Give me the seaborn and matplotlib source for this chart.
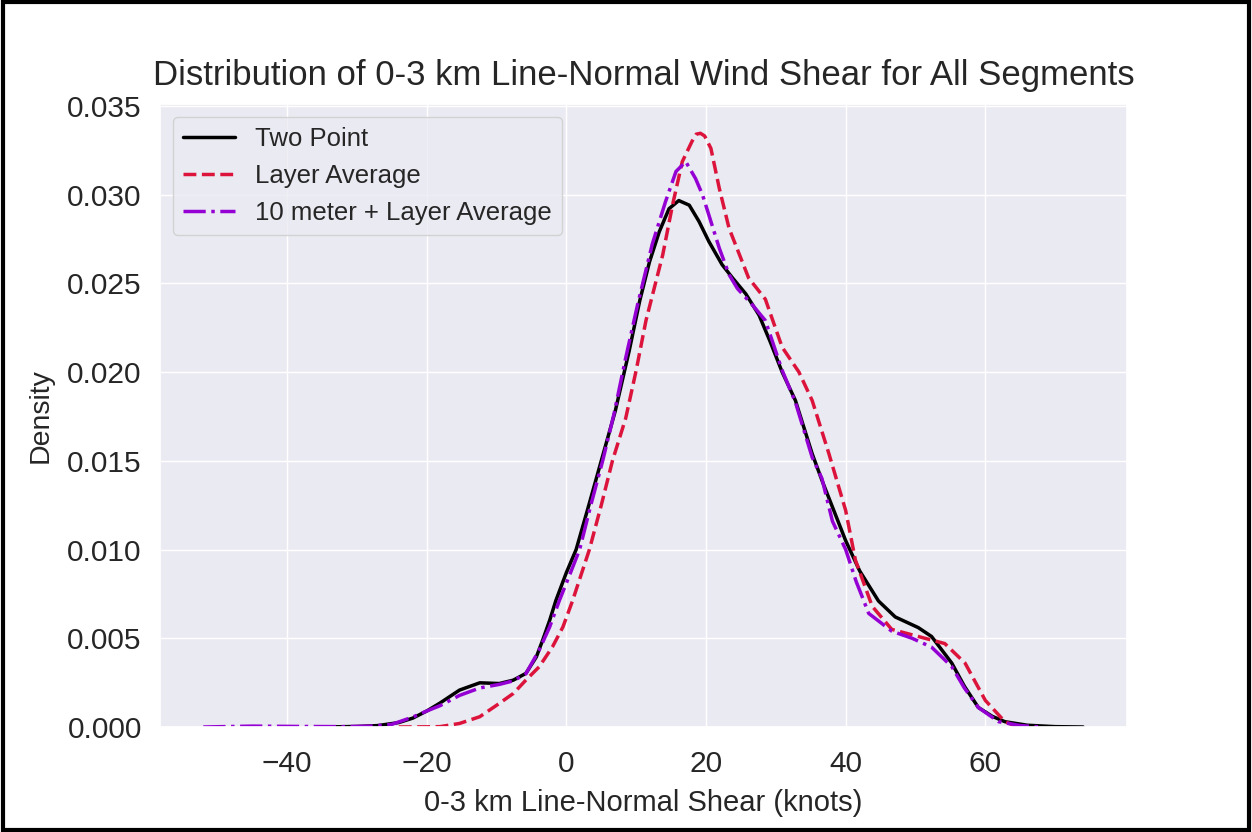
import numpy as np
import pandas as pd
import matplotlib
matplotlib.use("Agg")
import matplotlib.pyplot as plt
import seaborn as sns

# Values (knots, density)
two_point_x = [-35, -30, -27, -24, -22, -20, -18.1, -15.3, -12.4, -9.6, -7.6, -5.8, -4.3,
               -3.4, -2.4, -1.5, 0, 1.4, 3, 5, 7, 9, 10.5, 11.9, 13.3, 14.7, 16.1, 17.6,
               19, 20.4, 22.3, 23.8, 25.7, 27.6, 29.2, 30.9, 32.8, 35.2, 36.6, 38.3, 40,
               42, 44.7, 47.1, 50.4, 52.3, 55.2, 57, 59, 61, 62.8, 66, 70, 74]
two_point_y = [0.0, 0.00003, 0.00008, 0.00025, 0.0005, 0.0009, 0.00135, 0.00208, 0.00249,
               0.00245, 0.00264, 0.00302, 0.00395,
               0.00489, 0.0060, 0.00713, 0.0087, 0.0100, 0.0122, 0.0150, 0.0178, 0.0212,
               0.0240, 0.0262, 0.0279, 0.0292, 0.02966, 0.0294,
               0.02848, 0.02736, 0.02605, 0.0253, 0.0244, 0.0232, 0.0217, 0.0200, 0.0184,
               0.0154, 0.0139, 0.0122, 0.0105,
               0.0088, 0.0071, 0.0062, 0.0056, 0.0051, 0.0036, 0.0023, 0.0011, 0.0006,
               0.0003, 0.0001, 0.00002, 0.0]

layer_avg_x = [-24, -20, -18.1, -15.3, -12.4, -9.6, -7.6, -5.8, -3.9, -2, -0.5, 0.9, 3.3,
               5, 6.6, 8.5, 10, 11.4, 13.8, 15.2, 16.6, 18, 18.6, 19.2, 19.8, 20.7, 21.9,
               23.3, 25.2, 26.1, 28.5, 30.9, 33.3, 35.2, 37.6, 40, 41.4, 43.8, 46.6, 50.4,
               54.2, 57.1, 60, 62.8, 64.7]
layer_avg_y = [0.0, 0.00001, 0.00002, 0.0002, 0.00058, 0.00133, 0.00189, 0.00264, 0.00339,
               0.00451, 0.00563, 0.00713, 0.0100,
               0.0125, 0.0150, 0.0174, 0.0201, 0.0229, 0.0266, 0.0294, 0.03185, 0.0330,
               0.0334, 0.03345, 0.0333, 0.0326, 0.03035,
               0.0281, 0.0262, 0.0253, 0.0241, 0.0214, 0.0200, 0.0184, 0.0154, 0.0122,
               0.0094, 0.0068, 0.0055, 0.0051,
               0.0047, 0.0036, 0.0015, 0.0003, 0.0]

ten_m_x = [-52, -45, -38, -32, -28, -25, -22, -20, -18.1, -15.3, -12.4, -9.6, -7.6, -5.8,
           -3.9, -2.4, -1, 0.5, 1.9, 3.5, 5.2, 6.8, 8.5, 10.2, 12.3, 14.2, 15.7, 17.1,
           18.5, 19.5, 20.7, 21.9, 23.3, 24.5, 26.6, 28.5, 30.9, 32.8, 35.2, 36.6, 38.1,
           40, 41.5, 43.3, 46.6, 49.5, 52.3, 55.2, 57, 59, 61.9, 65, 68]
ten_m_y = [0.0, 0.00005, 0.00003, 0.00002, 0.00005, 0.00015, 0.00056, 0.0009, 0.0012,
           0.00178, 0.0022, 0.0024, 0.0026, 0.0030,
           0.00433, 0.00563, 0.00713, 0.0086, 0.0100, 0.0125, 0.0150, 0.0176, 0.0208,
           0.0238, 0.0272, 0.0296, 0.0313, 0.03185,
           0.0309, 0.02998, 0.02848, 0.02698, 0.02549, 0.0247, 0.0238, 0.0229, 0.0201,
           0.0183, 0.0152, 0.0140, 0.0116,
           0.0100, 0.0082, 0.0064, 0.0054, 0.0050, 0.0045, 0.0034, 0.0022, 0.0011,
           0.0003, 0.00008, 0.0]

series = [
    ("Two Point", two_point_x, two_point_y, "black", "-"),
    ("Layer Average", layer_avg_x, layer_avg_y, "crimson", "--"),
    ("10 meter + Layer Average", ten_m_x, ten_m_y, "darkviolet", "-."),
]

sns.set_theme(style="darkgrid")
plt.rcParams['font.family'] = ['Liberation Sans', 'DejaVu Sans']

fig = plt.figure(figsize=(12.52, 8.32), dpi=100)
ax = fig.add_axes([0.1278, 0.1262, 0.7724, 0.7488])

for name, xs, ys, color, ls in series:
    df = pd.DataFrame({"x": xs, "y": ys})
    sns.lineplot(data=df, x="x", y="y", ax=ax, color=color, linestyle=ls,
                 linewidth=2.5, label=name)

ax.set_xlim(-58.2, 80.3)
ax.set_ylim(0, 0.0351)
ax.set_xticks([-40, -20, 0, 20, 40, 60])
ax.set_yticks(np.arange(0, 0.0351, 0.005))
ax.yaxis.set_major_formatter(matplotlib.ticker.FormatStrFormatter('%.3f'))
ax.tick_params(labelsize=21.5)
ax.tick_params(axis='y', pad=plt.rcParams['ytick.major.pad'] + 3.6)
ax.tick_params(axis='x', pad=plt.rcParams['xtick.major.pad'] + 7)
ax.set_title("Distribution of 0-3 km Line-Normal Wind Shear for All Segments",
             fontsize=25, pad=14)
ax.set_xlabel("0-3 km Line-Normal Shear (knots)", fontsize=21, labelpad=8)
ax.set_ylabel("Density", fontsize=20.5, labelpad=10)
ax.legend(loc="upper left", fontsize=18.5)

# black frame around the whole picture
fig.patches.append(plt.Rectangle((0.002, 0.002), 0.996, 0.996, transform=fig.transFigure,
                                 fill=False, edgecolor="black", linewidth=3))

fig.savefig("out.png", dpi=100)
